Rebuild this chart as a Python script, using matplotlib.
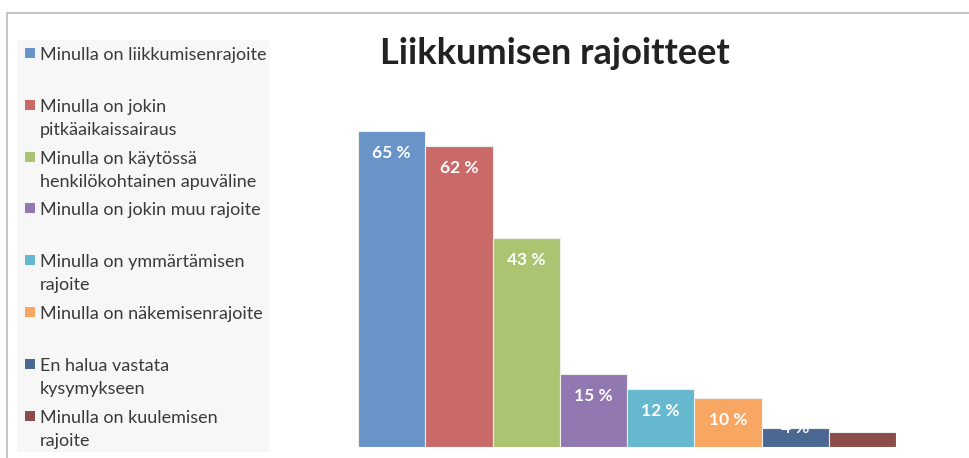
import matplotlib.pyplot as plt
from matplotlib.patches import Rectangle
from matplotlib.lines import Line2D

# Liikkumisen rajoitteet - osuudet vastaajista (%)
otsikko = "Liikkumisen rajoitteet"
selitteet = [
    "Minulla on liikkumisenrajoite",
    "Minulla on jokin\npitkäaikaissairaus",
    "Minulla on käytössä\nhenkilökohtainen apuväline",
    "Minulla on jokin muu rajoite",
    "Minulla on ymmärtämisen\nrajoite",
    "Minulla on näkemisenrajoite",
    "En halua vastata\nkysymykseen",
    "Minulla on kuulemisen\nrajoite",
]
arvot = [65, 62, 43, 15, 12, 10, 4, 3]
tekstit = ["65 %", "62 %", "43 %", "15 %", "12 %", "10 %", "4 %", ""]
varit = ["#6894C8", "#C96A68", "#AAC472", "#9278B0",
         "#66B8CE", "#F8A763", "#4A6891", "#8B4C4B"]

plt.rcParams['font.family'] = ['Lato', 'DejaVu Sans']

W, H = 970, 458
fig = plt.figure(figsize=(W / 100, H / 100), dpi=100)

# kehys (vain ylä- ja vasen reuna näkyvät)
fig.add_artist(Line2D([7 / W, 1], [1 - 12.5 / H, 1 - 12.5 / H], color="#c0c0c0", lw=1.3))
fig.add_artist(Line2D([7 / W, 7 / W], [0, 1 - 12.5 / H], color="#c0c0c0", lw=1.3))

# pylväät
ax = fig.add_axes([358 / W, 11 / H, (896 - 358) / W, 340 / H])
x = range(len(arvot))
ax.bar(x, arvot, width=1.0, color=varit, edgecolor="#eeeeee", linewidth=0.8)
ax.set_xlim(-0.5, len(arvot) - 0.5)
ax.set_ylim(0, 70)
ax.axis("off")

for i, (v, t) in enumerate(zip(arvot, tekstit)):
    y = v - 4.5 if v > 9 else v
    ax.text(i, y, t, ha="center", va="center", color="white",
            fontsize=12.5, fontweight="bold")

fig.text(555 / W, 1 - 54 / H, otsikko, ha="center", va="center",
         fontsize=26, fontweight="bold", color="#222222")

# selite
fig.add_artist(Rectangle((17 / W, 6 / H), (270 - 17) / W, (452 - 40) / H,
                         transform=fig.transFigure, facecolor="#f7f7f7",
                         edgecolor="none", zorder=0))
for i, (lab, c) in enumerate(zip(selitteet, varit)):
    yc = 1 - (53 + i * 51.8) / H
    fig.add_artist(Rectangle((25 / W, yc - 5 / H), 10 / W, 10 / H,
                             transform=fig.transFigure, facecolor=c,
                             edgecolor="none"))
    fig.text(40 / W, yc + 6 / H, lab, ha="left", va="top", fontsize=13,
             color="#3a3a3a", linespacing=1.55)

fig.savefig("out.png", dpi=100)
